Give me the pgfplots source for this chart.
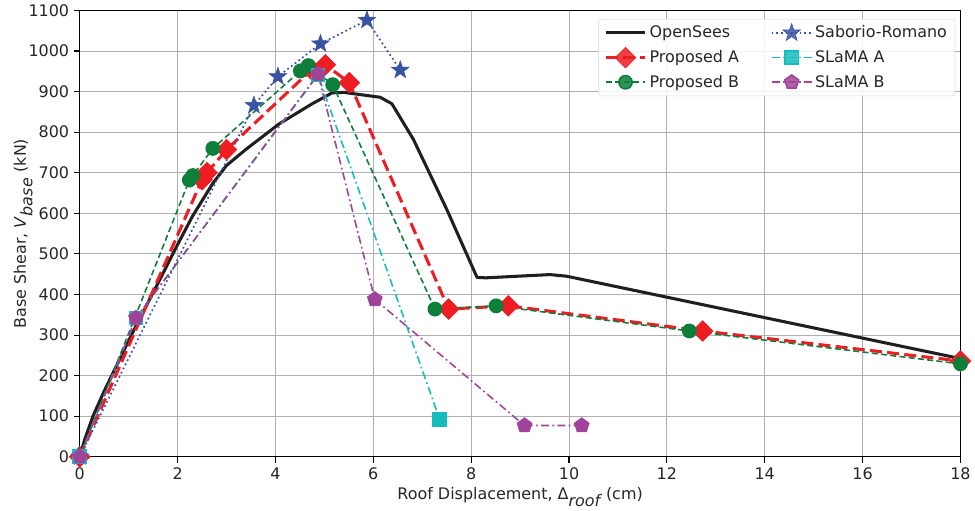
\documentclass[border=0pt]{standalone}
\usepackage{fontspec}
\setmainfont{DejaVu Sans}
\usepackage{pgfplots}
\pgfplotsset{compat=1.18}
\definecolor{cred}{HTML}{EE1D23}
\definecolor{cgreen}{HTML}{0E7F3B}
\definecolor{cblue}{HTML}{3953A4}
\definecolor{ccyan}{HTML}{16BDBD}
\definecolor{cpurple}{HTML}{A0449B}
\definecolor{ctext}{HTML}{262626}
\definecolor{cgrid}{HTML}{B0B0B0}
\pgfdeclareplotmark{fstar}{%
  \pgfpathmoveto{\pgfqpointpolar{90}{\pgfplotmarksize}}%
  \pgfpathlineto{\pgfqpointpolar{126}{0.40\pgfplotmarksize}}%
  \pgfpathlineto{\pgfqpointpolar{162}{\pgfplotmarksize}}%
  \pgfpathlineto{\pgfqpointpolar{198}{0.40\pgfplotmarksize}}%
  \pgfpathlineto{\pgfqpointpolar{234}{\pgfplotmarksize}}%
  \pgfpathlineto{\pgfqpointpolar{270}{0.40\pgfplotmarksize}}%
  \pgfpathlineto{\pgfqpointpolar{306}{\pgfplotmarksize}}%
  \pgfpathlineto{\pgfqpointpolar{342}{0.40\pgfplotmarksize}}%
  \pgfpathlineto{\pgfqpointpolar{18}{\pgfplotmarksize}}%
  \pgfpathlineto{\pgfqpointpolar{54}{0.40\pgfplotmarksize}}%
  \pgfpathclose
  \pgfusepathqfillstroke
}
\begin{document}
\begin{tikzpicture}[x=1pt,y=1pt]
\begin{axis}[
  scale only axis,
  width=663pt, height=336pt,
  xmin=0, xmax=18, ymin=0, ymax=1100,
  xtick={0,2,...,18}, ytick={0,100,...,1100},
  grid=major,
  major grid style={cgrid, line width=0.75pt},
  axis line style={black, line width=1pt},
  tick style={black, line width=0.8pt},
  tick align=outside, tick pos=left,
  major tick length=4.5pt,
  ticklabel style={font=\fontsize{12}{14}\selectfont, text=ctext},
  /pgf/number format/assume math mode=true,
  /pgf/number format/set thousands separator={},
  xlabel={Roof Displacement, Δ$_{\textit{roof}}$ (cm)},
  ylabel={Base Shear, \textit{V}$_{\textit{base}}$ (kN)},
  label style={font=\fontsize{12}{14}\selectfont, text=ctext},
  xlabel style={yshift=1pt},
  ylabel style={yshift=-10pt},
  legend columns=3,
  transpose legend,
  legend cell align=left,
  legend image code/.code={\draw[mark repeat=2,mark phase=2] plot coordinates {(0pt,0pt) (15pt,0pt) (30pt,0pt)};},
  legend style={at={(rel axis cs:0.994,0.981)}, anchor=north east,
    font=\fontsize{12}{14}\selectfont, text=ctext,
    draw=black!15, rounded corners=2pt, fill=white, fill opacity=0.85, text opacity=1,
    /tikz/every even column/.append style={column sep=22pt},
    row sep=3.5pt, inner xsep=4pt, inner ysep=3pt},
]
\addplot[color=black!88, line width=2.3pt, no marks, line join=round] coordinates {
(0,0) (0.1,42) (0.27,100) (0.5,162) (0.85,249) (1.2,335) (1.6,428) (1.97,516) (2.3,592) (2.72,674) (3.0,718) (3.39,757) (4.07,820) (4.75,870) (5.16,897) (5.4,898) (6.14,886) (6.38,870) (6.82,782) (7.5,610) (8.12,442) (8.3,441) (9.61,449) (9.95,445) (18,242)
};
\addlegendentry{OpenSees}
\addplot[color=cred, line width=2.3pt, dash pattern=on 9pt off 4pt, mark=square*, mark size=5.5pt, mark options={solid, rotate=45, fill=cred, draw=cred, line width=0.5pt}] coordinates {
(0,0) (2.5,683) (2.6,700) (3.0,757) (4.74,954) (5.02,966) (5.51,922) (7.54,364) (8.76,372) (12.73,310) (18,236)
};
\addlegendentry{Proposed A}
\addplot[color=cgreen, line width=1.2pt, dash pattern=on 4.5pt off 2.5pt, mark=*, mark size=5pt, mark options={solid, fill=cgreen, draw=cgreen}] coordinates {
(0,0) (2.24,682) (2.31,693) (2.72,760) (4.51,951) (4.67,964) (5.17,917) (7.26,364) (8.51,372) (12.46,310) (18,229)
};
\addlegendentry{Proposed B}
\addplot[color=cblue, line width=1.3pt, dash pattern=on 1.3pt off 2.2pt, mark=fstar, mark size=7pt, mark options={solid, fill=cblue, draw=cblue, line width=0.4pt}] coordinates {
(0,0) (3.56,866) (4.05,937) (4.92,1018) (5.87,1076) (6.55,953)
};
\addlegendentry{Saborio-Romano}
\addplot[color=ccyan, line width=1.2pt, dash pattern=on 6pt off 2.5pt on 1.3pt off 2.5pt, mark=square*, mark size=5pt, mark options={solid, fill=ccyan, draw=ccyan}] coordinates {
(0,0) (1.15,342) (4.87,941) (7.36,91)
};
\addlegendentry{SLaMA A}
\addplot[color=cpurple, line width=1.2pt, dash pattern=on 6pt off 2.5pt on 1.3pt off 2.5pt, mark=pentagon*, mark size=5.5pt, mark options={solid, fill=cpurple, draw=cpurple}] coordinates {
(0,0) (1.15,342) (4.87,943) (6.03,388) (9.09,77) (10.26,77)
};
\addlegendentry{SLaMA B}
\end{axis}
\path ([xshift=-7pt]current axis.outer west);
\end{tikzpicture}
\end{document}
